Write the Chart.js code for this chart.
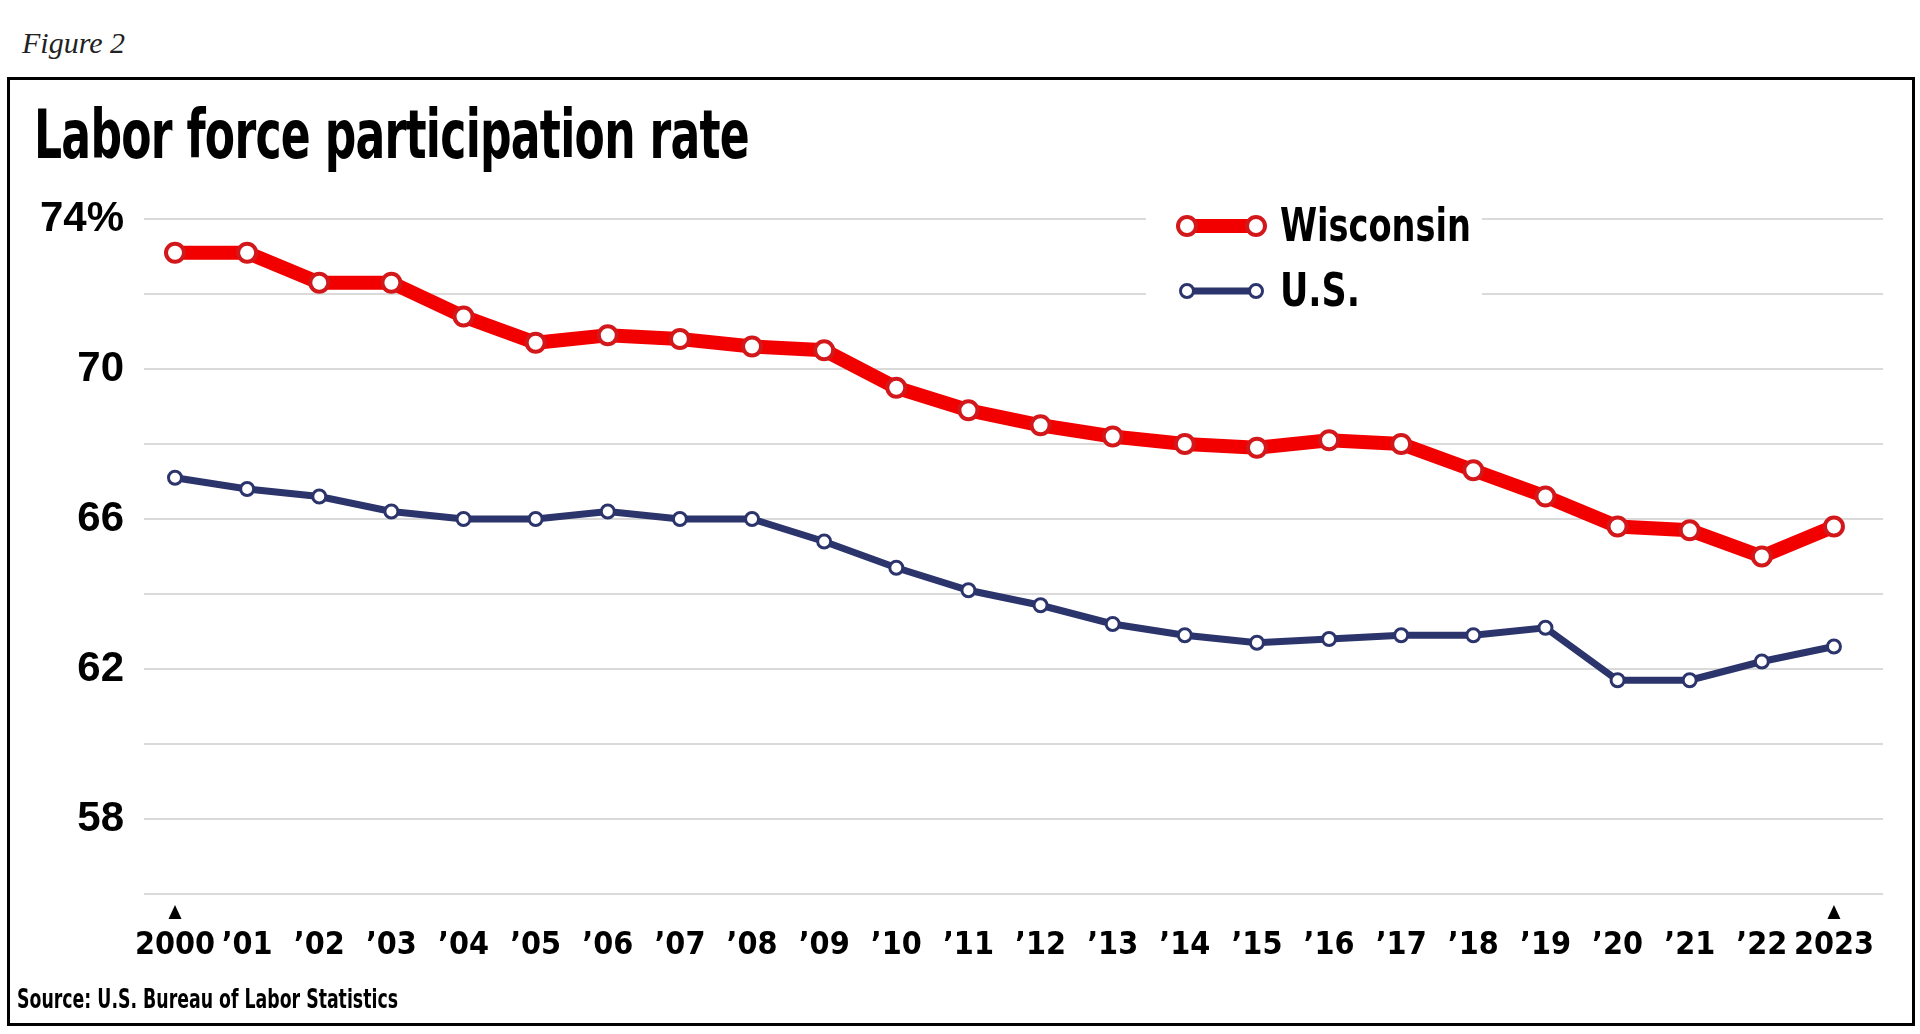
<!DOCTYPE html>
<html>
<head>
<meta charset="utf-8">
<title>Labor force participation rate</title>
<script src="https://cdn.jsdelivr.net/npm/chart.js"></script>
<style>
html, body { margin: 0; padding: 0; background: #fff; }
body { width: 1920px; height: 1034px; position: relative; overflow: hidden; }
#fig { position: absolute; left: 22px; top: 28px; font: italic 30px 'Liberation Serif', 'DejaVu Serif', serif; color: #222; line-height: 1; }
#frame { position: absolute; left: 7px; top: 77px; width: 1908px; height: 949px; box-sizing: border-box; border: 3px solid #000; }
.narrow { font-family: 'Liberation Sans Narrow', 'DejaVu Sans Condensed', 'Arial Narrow', sans-serif; font-weight: bold; line-height: 1; white-space: nowrap; transform-origin: left top; position: absolute; color: #000; }
#title { left: 34px; top: 102px; font-size: 67px; letter-spacing: -1px; }
#source { left: 17px; top: 985px; font-size: 27px; }
#chartBox { position: absolute; left: 0; top: 0; width: 1920px; height: 1034px; }
</style>
</head>
<body>
<div id="fig">Figure 2</div>
<div id="frame"></div>
<div id="chartBox"><canvas id="lfpChart"></canvas></div>
<div id="title" class="narrow">Labor force participation rate</div>
<div id="source" class="narrow">Source: U.S. Bureau of Labor Statistics</div>
<script>
// 数据
var years = ['2000', '\u201901', '\u201902', '\u201903', '\u201904', '\u201905', '\u201906', '\u201907', '\u201908', '\u201909', '\u201910', '\u201911',
    '\u201912', '\u201913', '\u201914', '\u201915', '\u201916', '\u201917', '\u201918', '\u201919', '\u201920', '\u201921', '\u201922', '2023'];
var wisconsinRate = [73.1, 73.1, 72.3, 72.3, 71.4, 70.7, 70.9, 70.8, 70.6, 70.5, 69.5, 68.9,
    68.5, 68.2, 68.0, 67.9, 68.1, 68.0, 67.3, 66.6, 65.8, 65.7, 65.0, 65.8];
var usRate = [67.1, 66.8, 66.6, 66.2, 66.0, 66.0, 66.2, 66.0, 66.0, 65.4, 64.7, 64.1,
    63.7, 63.2, 62.9, 62.7, 62.8, 62.9, 62.9, 63.1, 61.7, 61.7, 62.2, 62.6];
var yLabelValues = [58, 62, 66, 70, 74];
var markedYears = [0, 23];

var NARROW = "'Liberation Sans Narrow', 'DejaVu Sans Condensed', 'Arial Narrow', sans-serif";
var RED = '#f20000';
var RED_DARK = '#d3181b';
var NAVY = '#2c346c';

// 把HTML文字压缩到目标宽度
function fitWidth(id, target) {
    var el = document.getElementById(id);
    var w = el.getBoundingClientRect().width;
    if (w > 0) el.style.transform = 'scaleX(' + (target / w) + ')';
}
fitWidth('title', 715);
fitWidth('source', 381);

function toPoints(values) {
    var pts = [];
    for (var i = 0; i < values.length; i++) {
        pts.push({ x: i, y: values[i] });
    }
    return pts;
}

// 画图例（白底覆盖网格线）
var legendPlugin = {
    id: 'customLegend',
    beforeDatasetsDraw: function(chart) {
        var ctx = chart.ctx;
        ctx.save();
        ctx.fillStyle = '#fff';
        ctx.fillRect(1146, 200, 336, 118);
        var rows = [
            { label: 'Wisconsin', y: 226, line: RED, border: RED_DARK, lw: 14, r: 9, bw: 4, width: 191 },
            { label: 'U.S.', y: 291, line: NAVY, border: NAVY, lw: 7, r: 6.5, bw: 3, width: 80 }
        ];
        for (var i = 0; i < rows.length; i++) {
            var row = rows[i];
            ctx.strokeStyle = row.line;
            ctx.lineWidth = row.lw;
            ctx.beginPath();
            ctx.moveTo(1187, row.y);
            ctx.lineTo(1256, row.y);
            ctx.stroke();
            var cx = [1187, 1256];
            for (var j = 0; j < cx.length; j++) {
                ctx.beginPath();
                ctx.arc(cx[j], row.y, row.r, 0, Math.PI * 2);
                ctx.fillStyle = '#fff';
                ctx.fill();
                ctx.lineWidth = row.bw;
                ctx.strokeStyle = row.border;
                ctx.stroke();
            }
            ctx.font = 'bold 46px ' + NARROW;
            ctx.fillStyle = '#000';
            ctx.textBaseline = 'alphabetic';
            var tw = ctx.measureText(row.label).width;
            ctx.save();
            ctx.translate(1280, row.y + 15);
            ctx.scale(row.width / tw, 1);
            ctx.fillText(row.label, 0, 0);
            ctx.restore();
        }
        ctx.restore();
    },
    afterDraw: function(chart) {
        // 起止年份上方的小三角
        var ctx = chart.ctx;
        ctx.save();
        ctx.fillStyle = '#000';
        for (var i = 0; i < markedYears.length; i++) {
            var x = chart.scales.x.getPixelForValue(markedYears[i]);
            ctx.beginPath();
            ctx.moveTo(x, 905);
            ctx.lineTo(x - 6.5, 919);
            ctx.lineTo(x + 6.5, 919);
            ctx.closePath();
            ctx.fill();
        }
        ctx.restore();
    }
};

var chart = new Chart(document.getElementById('lfpChart'), {
    type: 'line',
    data: {
        datasets: [{
            label: 'U.S.',
            data: toPoints(usRate),
            borderColor: NAVY,
            borderWidth: 7,
            pointRadius: 6.5,
            pointBorderWidth: 3,
            pointBackgroundColor: '#fff',
            pointBorderColor: NAVY,
            tension: 0
        }, {
            label: 'Wisconsin',
            data: toPoints(wisconsinRate),
            borderColor: RED,
            borderWidth: 14,
            pointRadius: 9,
            pointBorderWidth: 4,
            pointBackgroundColor: '#fff',
            pointBorderColor: RED_DARK,
            tension: 0
        }]
    },
    options: {
        responsive: true,
        maintainAspectRatio: false,
        animation: false,
        layout: {
            padding: { left: 14, right: 37, top: 219, bottom: 60 }
        },
        plugins: {
            legend: { display: false },
            tooltip: { enabled: false }
        },
        scales: {
            x: {
                type: 'linear',
                min: -0.43,
                max: 23.68,
                afterBuildTicks: function(scale) {
                    var t = [];
                    for (var i = 0; i < years.length; i++) t.push({ value: i });
                    scale.ticks = t;
                },
                afterFit: function(scale) { scale.height = 80; },
                grid: { display: false, drawTicks: false },
                border: { display: false },
                ticks: {
                    autoSkip: false,
                    maxRotation: 0,
                    padding: 32,
                    color: '#000',
                    font: { family: NARROW, size: 32, weight: 'bold' },
                    callback: function(v) { return years[v]; }
                }
            },
            y: {
                min: 56,
                max: 74,
                afterFit: function(scale) { scale.width = 130; },
                grid: { color: '#dadada', lineWidth: 2, drawTicks: false },
                border: { display: false },
                ticks: {
                    stepSize: 2,
                    padding: 20,
                    color: '#000',
                    font: { family: "'Liberation Sans', Arial, sans-serif", size: 42, weight: 'bold' },
                    callback: function(v) {
                        if (yLabelValues.indexOf(v) < 0) return '';
                        return v === 74 ? '74%' : String(v);
                    }
                }
            }
        }
    },
    plugins: [legendPlugin]
});
</script>
</body>
</html>
